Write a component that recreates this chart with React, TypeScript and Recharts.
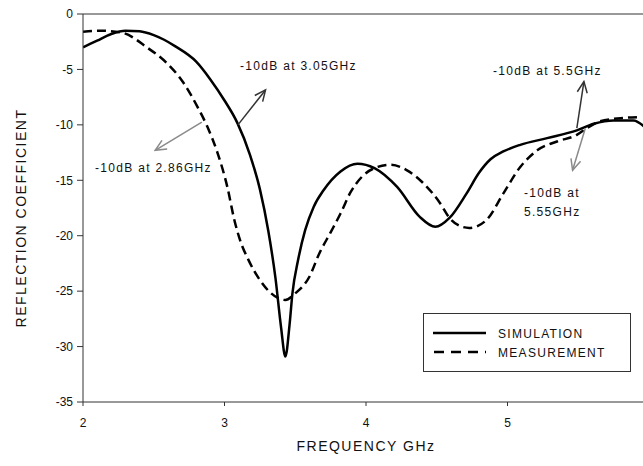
import { LineChart, Line, XAxis, YAxis, ReferenceLine, Label } from "recharts";

if (typeof document !== "undefined") document.body.style.margin = "0";

// simulated S11 (solid)
const simFreq = [2.0, 2.1, 2.2, 2.3, 2.4, 2.5, 2.57, 2.65, 2.8, 2.9, 3.0, 3.09, 3.18, 3.25, 3.31, 3.36, 3.4, 3.43, 3.46, 3.48, 3.52, 3.57, 3.63, 3.7, 3.82, 3.94, 4.06, 4.22, 4.38, 4.49, 4.59, 4.71, 4.8, 4.88, 4.97, 5.09, 5.28, 5.49, 5.61, 5.75, 5.89, 5.97];
const simLoss = [-3.0, -2.4, -1.8, -1.5, -1.55, -1.9, -2.3, -2.9, -4.3, -5.9, -7.8, -9.8, -12.7, -15.8, -19.6, -23.8, -28.3, -30.9, -28.0, -25.2, -22.2, -19.5, -17.4, -15.9, -14.2, -13.5, -13.9, -15.6, -18.3, -19.2, -18.4, -16.2, -14.3, -13.1, -12.4, -11.8, -11.2, -10.5, -9.9, -9.6, -9.6, -10.2];

// measured S11 (dashed)
const measFreq = [2.0, 2.12, 2.28, 2.45, 2.59, 2.71, 2.81, 2.88, 2.95, 3.02, 3.07, 3.11, 3.17, 3.25, 3.33, 3.43, 3.5, 3.6, 3.67, 3.75, 3.82, 3.89, 3.97, 4.06, 4.17, 4.29, 4.4, 4.52, 4.59, 4.68, 4.73, 4.85, 4.97, 5.09, 5.21, 5.35, 5.49, 5.56, 5.65, 5.8, 5.93];
const measLoss = [-1.6, -1.5, -1.7, -3.0, -4.4, -6.2, -8.4, -10.2, -12.5, -15.6, -18.6, -20.4, -22.2, -24.0, -25.2, -25.8, -25.2, -23.7, -21.6, -19.7, -18.0, -16.1, -14.7, -13.9, -13.6, -14.1, -15.2, -17.0, -18.4, -19.2, -19.3, -18.6, -16.2, -13.8, -12.3, -11.5, -10.9, -10.3, -9.7, -9.4, -9.3];

const xTicks = [2, 3, 4, 5, 6];
const yTicks = [-35, -30, -25, -20, -15, -10, -5, 0];

const simData = simFreq.map((f, i) => ({ freq: f, loss: simLoss[i] }));
const measData = measFreq.map((f, i) => ({ freq: f, loss: measLoss[i] }));

// -10 dB markers: [from, to] in data units
const arrows = [
  { from: { x: 3.095, y: -10 }, to: { x: 3.29, y: -6.85 }, color: "#333" },
  { from: { x: 2.84, y: -9.75 }, to: { x: 2.51, y: -12.3 }, color: "#8a8a8a" },
  { from: { x: 5.49, y: -10.3 }, to: { x: 5.54, y: -6.1 }, color: "#333" },
  { from: { x: 5.55, y: -10.3 }, to: { x: 5.46, y: -14.1 }, color: "#8a8a8a" },
];

const font = "'Liberation Sans', Arial, sans-serif";
const noteStyle = { fontFamily: font, fontSize: 12, letterSpacing: 1.3, fill: "#111" };

export default function App() {
  return (
    <div style={{ position: "relative", width: 643, height: 466, overflow: "hidden", background: "#fff" }}>
      <svg width={0} height={0} style={{ position: "absolute" }}>
        <defs>
          <marker id="headDark" markerUnits="userSpaceOnUse" markerWidth={14} markerHeight={12} refX={12} refY={6} orient="auto">
            <path d="M1,1 L12,6 L1,11" fill="none" stroke="#333" strokeWidth={1.5} />
          </marker>
          <marker id="headGray" markerUnits="userSpaceOnUse" markerWidth={14} markerHeight={12} refX={12} refY={6} orient="auto">
            <path d="M1,1 L12,6 L1,11" fill="none" stroke="#8a8a8a" strokeWidth={1.5} />
          </marker>
        </defs>
      </svg>
      <LineChart width={660} height={466} margin={{ top: 14, right: 11, left: 0, bottom: 0 }}>
        <XAxis
          type="number"
          dataKey="freq"
          domain={[2, 6]}
          ticks={xTicks}
          allowDataOverflow
          height={64}
          tickSize={4}
          tickMargin={12}
          stroke="#333"
          tick={{ fill: "#111", fontSize: 12, fontFamily: font }}
        >
          <Label
            content={({ viewBox }: any) => (
              <text
                x={viewBox.x + viewBox.width / 2}
                y={451}
                textAnchor="middle"
                style={{ fontFamily: font, fontSize: 14, letterSpacing: 1.5, fill: "#111" }}
              >
                FREQUENCY GHz
              </text>
            )}
          />
        </XAxis>
        <YAxis
          type="number"
          domain={[-35, 0]}
          ticks={yTicks}
          width={83}
          tickSize={6}
          tickMargin={4}
          stroke="#333"
          tick={{ fill: "#111", fontSize: 12, fontFamily: font }}
        >
          <Label
            content={() => (
              <text
                x={26}
                y={218}
                textAnchor="middle"
                transform="rotate(-90 26 218)"
                style={{ fontFamily: font, fontSize: 14, letterSpacing: 1.5, fill: "#111" }}
              >
                REFLECTION COEFFICIENT
              </text>
            )}
          />
        </YAxis>
        <ReferenceLine y={0} stroke="#333" />
        <Line
          data={simData}
          dataKey="loss"
          type="monotone"
          stroke="#000"
          strokeWidth={2.5}
          dot={false}
          isAnimationActive={false}
        />
        <Line
          data={measData}
          dataKey="loss"
          type="monotone"
          stroke="#000"
          strokeWidth={2.5}
          strokeDasharray="9 5"
          dot={false}
          isAnimationActive={false}
        />
        {arrows.map((a, i) => (
          <ReferenceLine
            key={i}
            segment={[a.from, a.to]}
            stroke={a.color}
            shape={(p: any) => (
              <line
                x1={p.x1}
                y1={p.y1}
                x2={p.x2}
                y2={p.y2}
                stroke={a.color}
                strokeWidth={1.5}
                markerEnd={a.color === "#333" ? "url(#headDark)" : "url(#headGray)"}
              />
            )}
          />
        ))}
      </LineChart>
      <svg width={643} height={466} style={{ position: "absolute", left: 0, top: 0, pointerEvents: "none" }}>
        <text x={240} y={70} style={noteStyle}>-10dB at 3.05GHz</text>
        <text x={95} y={172} style={noteStyle}>-10dB at 2.86GHz</text>
        <text x={493} y={75} style={noteStyle}>-10dB at 5.5GHz</text>
        <text x={524} y={197} style={noteStyle}>-10dB at</text>
        <text x={524} y={216} style={noteStyle}>5.55GHz</text>
        <rect x={423.5} y={313.5} width={207} height={58} fill="#fff" stroke="#333" />
        <line x1={433} y1={333} x2={486} y2={333} stroke="#000" strokeWidth={2.5} />
        <line x1={434} y1={352} x2={486} y2={352} stroke="#000" strokeWidth={2.5} strokeDasharray="10 7" />
        <text x={498} y={338} style={noteStyle}>SIMULATION</text>
        <text x={498} y={357} style={noteStyle}>MEASUREMENT</text>
      </svg>
    </div>
  );
}
